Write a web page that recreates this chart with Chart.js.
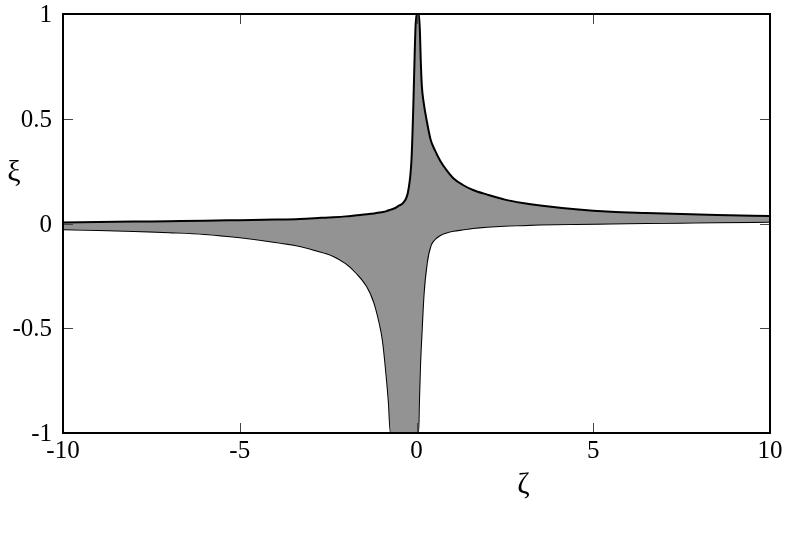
<!DOCTYPE html>
<html>
<head>
<meta charset="utf-8">
<script src="https://cdn.jsdelivr.net/npm/chart.js@4/dist/chart.umd.min.js"></script>
<style>
  html, body { margin: 0; padding: 0; background: #ffffff; }
  #wrap { width: 787px; height: 545px; position: relative; }
</style>
</head>
<body>
<div id="wrap"><canvas id="c" width="787" height="545"></canvas></div>
<script>
// ---- data ----
const zeta = [-10, -9, -8, -7, -6, -5, -4, -3.3, -2.7, -2.35, -2, -1.7, -1.4, -1.2, -1.05, -0.95, -0.85, -0.78, -0.73,
  -0.6, -0.5, -0.37, -0.23, -0.14, -0.09, -0.05, -0.03, 0, 0.03, 0.05, 0.07, 0.1, 0.12, 0.15, 0.2, 0.29, 0.4, 0.52, 0.67,
  0.85, 1.05, 1.3, 1.6, 2, 2.5, 3, 3.5, 4.5, 5.5, 6.5, 7.5, 8.5, 10];
const xiUpper = [0.005, 0.007, 0.009, 0.011, 0.013, 0.016, 0.019, 0.022, 0.027, 0.030, 0.034, 0.039, 0.044, 0.048, 0.052,
  0.055, 0.059, 0.063, 0.066, 0.074, 0.085, 0.100, 0.160, 0.310, 0.560, 0.820, 0.93, 1, 1, 1, 1, 0.90, 0.78, 0.66, 0.58,
  0.49, 0.40, 0.35, 0.30, 0.255, 0.215, 0.185, 0.16, 0.138, 0.114, 0.098, 0.086, 0.068, 0.056, 0.050, 0.045, 0.041, 0.036];
const xiLower = [-0.027, -0.031, -0.036, -0.042, -0.050, -0.066, -0.088, -0.107, -0.135, -0.155, -0.190, -0.236, -0.300,
  -0.375, -0.47, -0.56, -0.72, -0.86, -1, -1, -1, -1, -1, -1, -1, -1, -1, -1, -1, -1, -0.85, -0.68, -0.60, -0.50, -0.34,
  -0.19, -0.105, -0.075, -0.055, -0.043, -0.035, -0.029, -0.022, -0.016, -0.011, -0.008, -0.005, -0.002, 0.000, 0.002,
  0.004, 0.006, 0.008];
const xTicks = [-10, -5, 0, 5, 10];
const xTickLabels = ['-10', '-5', '0', '5', '10'];
const yTicks = [-1, -0.5, 0, 0.5, 1];
const yTickLabels = ['-1', '-0.5', '0', '0.5', '1'];
const xTitle = 'ζ';
const yTitle = 'ξ';

const FONT = "'Liberation Serif', 'Times New Roman', Tinos, Times, serif";

const frame = {
  id: 'frame',
  afterDatasetsDraw(chart) {
    const ctx = chart.ctx;
    const a = chart.chartArea;
    const xs = chart.scales.x, ys = chart.scales.y;
    ctx.save();
    // inward tick marks on all four sides
    ctx.strokeStyle = '#444';
    ctx.lineWidth = 1;
    const L = 10;
    xTicks.forEach(v => {
      const px = Math.round(xs.getPixelForValue(v)) + 0.5;
      ctx.beginPath();
      ctx.moveTo(px, a.bottom); ctx.lineTo(px, a.bottom - L);
      ctx.moveTo(px, a.top); ctx.lineTo(px, a.top + L);
      ctx.stroke();
    });
    yTicks.forEach(v => {
      const py = Math.round(ys.getPixelForValue(v)) + 0.5;
      ctx.beginPath();
      ctx.moveTo(a.left, py); ctx.lineTo(a.left + L, py);
      ctx.moveTo(a.right, py); ctx.lineTo(a.right - L, py);
      ctx.stroke();
    });
    // frame
    ctx.strokeStyle = '#000';
    ctx.lineWidth = 2;
    ctx.strokeRect(a.left, a.top, a.right - a.left, a.bottom - a.top);

    // tick labels, placed with the library's scales
    ctx.fillStyle = '#000';
    ctx.font = '25px ' + FONT;
    ctx.textBaseline = 'alphabetic';
    ctx.textAlign = 'center';
    xTicks.forEach((v, i) => {
      ctx.fillText(xTickLabels[i], xs.getPixelForValue(v), a.bottom + 25);
    });
    ctx.textAlign = 'right';
    yTicks.forEach((v, i) => {
      ctx.fillText(yTickLabels[i], a.left - 11, ys.getPixelForValue(v) + 8);
    });

    // axis titles (upright greek letters)
    ctx.font = '30px ' + FONT;
    ctx.textAlign = 'center';
    ctx.textBaseline = 'middle';
    ctx.fillText(yTitle, a.left - 49, a.top + 159);
    ctx.fillText(xTitle, (a.left + a.right) / 2 + 107, a.bottom + 52);
    ctx.restore();
  }
};

const pts = (ys) => zeta.map((z, i) => ({ x: z, y: ys[i] }));

new Chart(document.getElementById('c'), {
  type: 'line',
  data: {
    datasets: [
      {
        label: 'upper',
        data: pts(xiUpper),
        borderColor: '#000',
        borderWidth: 2,
        backgroundColor: '#939393',
        fill: '+1',
        pointRadius: 0,
        cubicInterpolationMode: 'monotone'
      },
      {
        label: 'lower',
        data: pts(xiLower),
        borderColor: '#000',
        borderWidth: 2,
        fill: false,
        pointRadius: 0,
        cubicInterpolationMode: 'monotone'
      }
    ]
  },
  options: {
    responsive: false,
    animation: false,
    devicePixelRatio: 1,
    layout: { padding: { left: 0, top: 14, right: 17, bottom: 0 } },
    plugins: { legend: { display: false }, tooltip: { enabled: false } },
    scales: {
      x: {
        type: 'linear',
        min: -10, max: 10,
        afterBuildTicks: (s) => { s.ticks = xTicks.map(v => ({ value: v })); },
        afterFit: (s) => { s.height = 112; s.paddingLeft = 0; s.paddingRight = 0; },
        grid: { display: false },
        border: { display: false },
        ticks: { display: false }
      },
      y: {
        type: 'linear',
        min: -1, max: 1,
        afterBuildTicks: (s) => { s.ticks = yTicks.map(v => ({ value: v })); },
        afterFit: (s) => { s.width = 63; s.paddingTop = 0; s.paddingBottom = 0; },
        grid: { display: false },
        border: { display: false },
        ticks: { display: false }
      }
    }
  },
  plugins: [frame]
});
</script>
</body>
</html>
